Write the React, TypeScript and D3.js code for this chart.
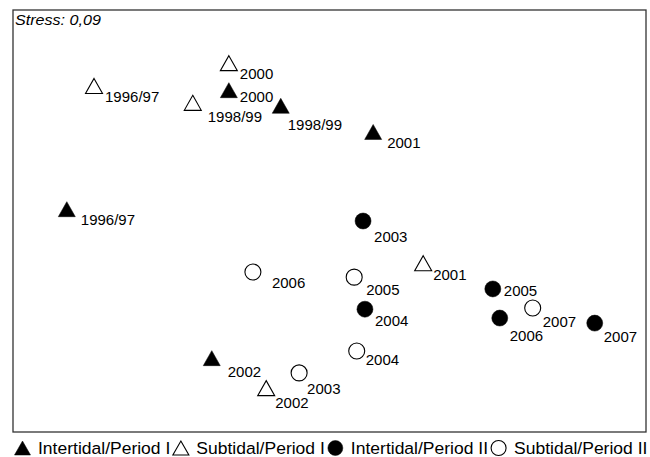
import React from "react";
import * as d3 from "d3";

// NMDS ordination coordinates (arbitrary units 0-100)
const subI_labels = ["1996/97", "2000", "1998/99", "2001", "2002"];
const subI_x = [12.8, 34.1, 28.4, 64.8, 40.0];
const subI_y = [82.0, 87.4, 78.0, 40.0, 10.4];

const intI_labels = ["1996/97", "2000", "1998/99", "2001", "2002"];
const intI_x = [8.5, 34.1, 42.3, 56.9, 31.4];
const intI_y = [52.8, 81.0, 77.3, 71.1, 17.5];

const intII_labels = ["2003", "2004", "2005", "2006", "2007"];
const intII_x = [55.3, 55.6, 75.8, 76.9, 91.9];
const intII_y = [50.0, 29.1, 33.9, 27.0, 25.8];

const subII_labels = ["2006", "2005", "2004", "2003", "2007"];
const subII_x = [37.9, 53.9, 54.3, 45.2, 82.1];
const subII_y = [37.9, 36.7, 19.2, 14.0, 29.4];

const legendLabels = [
  "Intertidal/Period I",
  "Subtidal/Period I",
  "Intertidal/Period II",
  "Subtidal/Period II",
];
const stressText = "Stress: 0,09";

// label placement offsets (layout only)
const subI_off = [[11, 16], [11, 16], [15, 19], [10, 17], [9, 20]];
const intI_off = [[14, 16], [11, 12], [7, 24], [14, 16], [16, 19]];
const intII_off = [[11, 21], [10, 17], [11, 7], [10, 23], [9, 19]];
const subII_off = [[19, 16], [12, 18], [9, 14], [8, 21], [10, 19]];

const W = 650;
const H = 457;
const frame = { l: 13, t: 10, r: 646, b: 432 };
const FONT = "'Liberation Sans', Arial, Helvetica, sans-serif";

const x = d3.scaleLinear().domain([0, 100]).range([frame.l, frame.r]);
const y = d3.scaleLinear().domain([0, 100]).range([frame.b, frame.t]);

type Kind = "triFill" | "triOpen" | "cirFill" | "cirOpen";

function Symbol({ kind, cx, cy, size = 17 }: { kind: Kind; cx: number; cy: number; size?: number }) {
  if (kind === "triFill" || kind === "triOpen") {
    const w = size;
    const h = size - 2;
    const path = d3.path();
    path.moveTo(cx, cy - h / 2);
    path.lineTo(cx + w / 2, cy + h / 2);
    path.lineTo(cx - w / 2, cy + h / 2);
    path.closePath();
    return (
      <path
        d={path.toString()}
        fill={kind === "triFill" ? "#000" : "#fff"}
        stroke="#000"
        strokeWidth={kind === "triFill" ? 0.5 : 1.1}
        strokeLinejoin="miter"
      />
    );
  }
  return (
    <circle
      cx={cx}
      cy={cy}
      r={(size - 1) / 2}
      fill={kind === "cirFill" ? "#000" : "#fff"}
      stroke="#000"
      strokeWidth={kind === "cirFill" ? 0.5 : 1.1}
    />
  );
}

function Label({ tx, ty, text, size = 15, sx = 1, italic = false }: any) {
  return (
    <text
      transform={`translate(${tx},${ty}) scale(${sx},1)`}
      fontFamily={FONT}
      fontSize={size}
      fontStyle={italic ? "italic" : "normal"}
      fill="#000"
    >
      {text}
    </text>
  );
}

const groups: { kind: Kind; labels: string[]; xs: number[]; ys: number[]; off: number[][] }[] = [
  { kind: "triOpen", labels: subI_labels, xs: subI_x, ys: subI_y, off: subI_off },
  { kind: "triFill", labels: intI_labels, xs: intI_x, ys: intI_y, off: intI_off },
  { kind: "cirFill", labels: intII_labels, xs: intII_x, ys: intII_y, off: intII_off },
  { kind: "cirOpen", labels: subII_labels, xs: subII_x, ys: subII_y, off: subII_off },
];

const legendKinds: Kind[] = ["triFill", "triOpen", "cirFill", "cirOpen"];

function measure(text: string, font: string) {
  const c = document.createElement("canvas");
  const ctx = c.getContext("2d")!;
  ctx.font = font;
  return ctx.measureText(text).width;
}

export default function App() {
  const legSize = 17;
  const legScale = 1.03;
  let cursor = 12;
  const legendItems = legendLabels.map((lab, i) => {
    const symLeft = cursor + 2;
    const textX = symLeft + 24;
    const w = measure(lab, `${legSize}px ${FONT}`) * legScale;
    cursor = textX + w;
    return { lab, kind: legendKinds[i], cx: symLeft + 8.5, textX };
  });
  const legY = 448;

  return (
    <svg
      width={W}
      height={H}
      style={{ position: "absolute", left: 0, top: 0, background: "#fff" }}
    >
      <rect x={0} y={0} width={W} height={H} fill="#fff" />
      <rect
        x={frame.l}
        y={frame.t}
        width={frame.r - frame.l}
        height={frame.b - frame.t}
        fill="none"
        stroke="#333"
        strokeWidth={1.3}
      />
      <Label tx={15} ty={25} text={stressText} size={14} sx={1.15} italic />
      {groups.map((g) =>
        g.labels.map((lab, i) => {
          const cx = x(g.xs[i]);
          const cy = y(g.ys[i]);
          return (
            <g key={g.kind + lab}>
              <Symbol kind={g.kind} cx={cx} cy={cy} />
              <Label tx={cx + g.off[i][0]} ty={cy + g.off[i][1]} text={lab} />
            </g>
          );
        })
      )}
      {legendItems.map((it) => (
        <g key={it.lab}>
          <Symbol kind={it.kind} cx={it.cx} cy={legY} size={16} />
          <Label tx={it.textX} ty={legY + 6} text={it.lab} size={legSize} sx={legScale} />
        </g>
      ))}
    </svg>
  );
}
